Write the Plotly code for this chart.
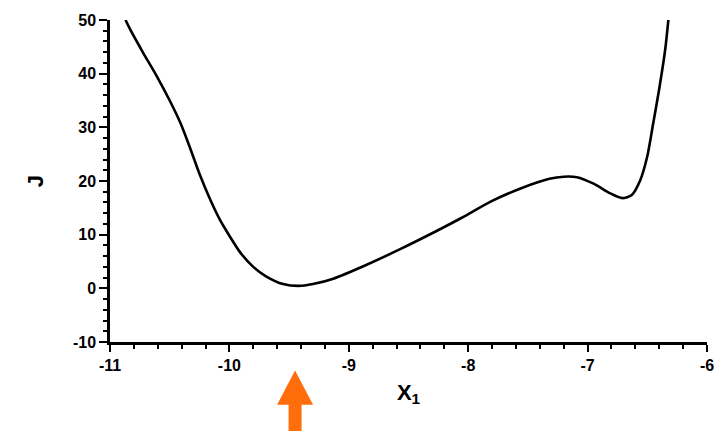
import plotly.graph_objects as go

# Data
x_vals = [-10.87, -10.83, -10.72, -10.61, -10.50, -10.41, -10.33, -10.25, -10.16, -10.08,
          -10.00, -9.91, -9.80, -9.69, -9.55, -9.42, -9.30, -9.13, -8.85, -8.57,
          -8.29, -8.05, -7.80, -7.55, -7.32, -7.20, -7.09, -6.95, -6.81, -6.71,
          -6.63, -6.56, -6.50, -6.45, -6.40, -6.35, -6.32]
j_vals = [50.0, 48.2, 43.8, 39.6, 35.0, 30.8, 26.2, 21.3, 16.5, 12.8,
          9.8, 6.7, 4.0, 2.2, 0.8, 0.45, 0.8, 1.8, 4.4, 7.3,
          10.4, 13.2, 16.3, 18.7, 20.4, 20.8, 20.7, 19.5, 17.7, 16.8,
          17.4, 20.1, 24.6, 30.8, 37.2, 44.5, 50.8]

x_range = [-11, -6]
y_range = [-10, 50]
x_ticks = [-11, -10, -9, -8, -7, -6]
y_ticks = [-10, 0, 10, 20, 30, 40, 50]
arrow_x = -9.45  # marked optimum position

fig = go.Figure()
fig.add_trace(go.Scatter(
    x=x_vals, y=j_vals, mode="lines",
    line=dict(color="black", width=2.6, shape="spline", smoothing=0.7),
    showlegend=False, hoverinfo="skip",
))

# orange arrow below the x axis, placed via axis-domain coordinates
fx = (arrow_x - x_range[0]) / (x_range[1] - x_range[0])
plot_w = 728 - 110 - 21
plot_h = 431 - 13 - 89
hw = 18 / plot_w   # half head width
sw = 6.5 / plot_w  # half shaft width
y_tip = -29 / plot_h
y_base = -64 / plot_h
y_bot = -95 / plot_h
path = (f"M {fx} {y_tip} L {fx + hw} {y_base} L {fx + sw} {y_base} L {fx + sw} {y_bot} "
        f"L {fx - sw} {y_bot} L {fx - sw} {y_base} L {fx - hw} {y_base} Z")
fig.add_shape(type="path", path=path, xref="x domain", yref="y domain",
              fillcolor="#FF6E0A", line=dict(width=0), layer="above")

font_fam = "Liberation Sans, Arial, sans-serif"
fig.update_layout(
    width=728, height=431,
    margin=dict(l=110, r=21, t=13, b=89),
    paper_bgcolor="white", plot_bgcolor="white",
    font=dict(family=font_fam, color="black"),
    xaxis=dict(
        range=x_range, tickvals=x_ticks, ticktext=[str(v) for v in x_ticks],
        showgrid=False, zeroline=False,
        showline=True, linecolor="black", linewidth=2.5,
        ticks="outside", ticklen=7, tickwidth=2, tickcolor="black",
        minor=dict(dtick=0.2, ticks="outside", ticklen=4, tickwidth=1.5, tickcolor="black"),
        tickfont=dict(size=16, family=font_fam, weight="bold"),
        title=dict(text="X<sub>1</sub>", font=dict(size=22, family=font_fam, weight="bold"),
                   standoff=12),
    ),
    yaxis=dict(
        range=y_range, tickvals=y_ticks, ticktext=[str(v) for v in y_ticks],
        showgrid=False, zeroline=False,
        showline=True, linecolor="black", linewidth=2.5,
        ticks="outside", ticklen=8, tickwidth=2, tickcolor="black",
        minor=dict(dtick=2, ticks="outside", ticklen=4, tickwidth=1.5, tickcolor="black"),
        tickfont=dict(size=16, family=font_fam, weight="bold"),
        title=dict(text="J", font=dict(size=22, family=font_fam, weight="bold"),
                   standoff=24),
    ),
)

fig.write_html("out.html", config={"displayModeBar": False},
               post_script="document.body.style.margin='0';document.body.style.padding='0';")
